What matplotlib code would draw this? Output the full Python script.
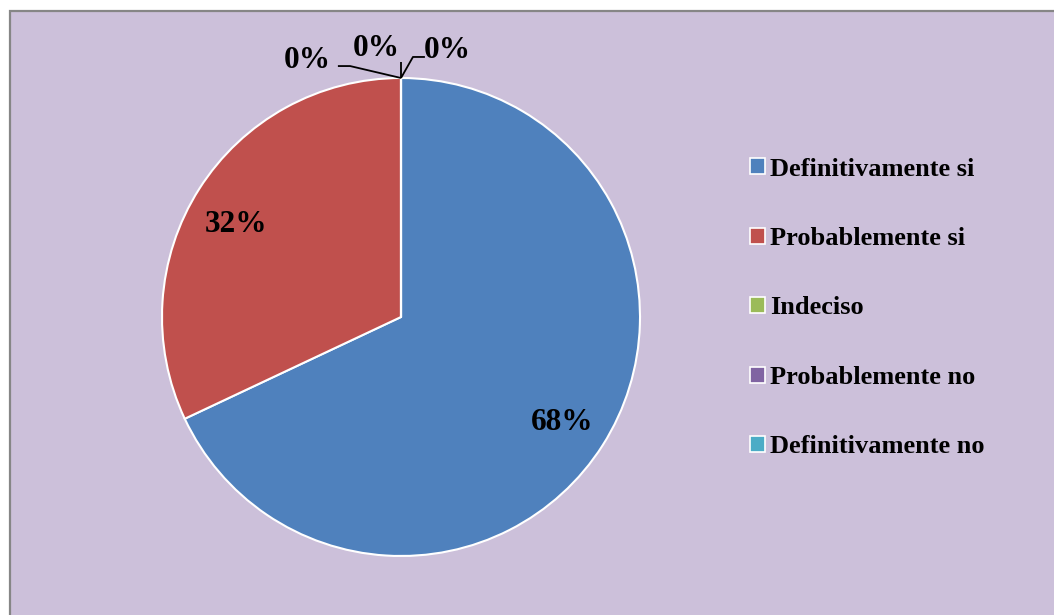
import numpy as np
import matplotlib
matplotlib.use("Agg")
import matplotlib.pyplot as plt
from matplotlib.patches import Rectangle, Patch

plt.rcParams['font.family'] = ['Liberation Serif', 'DejaVu Serif']
plt.rcParams['font.weight'] = 'bold'

categories = ["Definitivamente si", "Probablemente si", "Indeciso",
              "Probablemente no", "Definitivamente no"]
shares = [0.68, 0.32, 0.0, 0.0, 0.0]
colors = ["#4F81BD", "#C0504D", "#9BBB59", "#8064A2", "#4BACC6"]

W, H = 1054, 615
# pie centre at (401, 317) px with radius 239 px
cx, cy, R = 401, 317, 239
PX = 1 / R  # one pixel in data units

# nudges for the in-slice labels (pixels)
label_nudge = [(0, -3), (-4, -10)]
# where the small-slice labels sit, relative to their wedge point (pie radius = 1)
zero_label_pos = [(-0.393, 0.072), (-0.105, 0.122), (0.192, 0.114)]
zero_leaders = [[(0, 0), (-0.213, 0.050), (-0.264, 0.050)],
                [(0, 0), (0, 0.067)],
                [(0, 0), (0.050, 0.088), (0.100, 0.088)]]

fig = plt.figure(figsize=(W / 100, H / 100), dpi=100)
fig.patch.set_facecolor("white")
fig.add_artist(Rectangle((9.5 / W, -0.01), 1.1, 1 - 10.5 / H + 0.01,
                         transform=fig.transFigure, facecolor="#CCC0DA",
                         edgecolor="#868686", linewidth=1.6, zorder=-5))

ax = fig.add_axes([0, 0, 1, 1])
ax.patch.set_visible(False)
wedges, _ = ax.pie(shares, colors=colors, startangle=90, counterclock=False,
                   radius=1, wedgeprops=dict(edgecolor="white", linewidth=1.5))
ax.set_xlim(-cx / R, (W - cx) / R)
ax.set_ylim(-(H - cy) / R, cy / R)
ax.set_aspect("auto")
ax.axis("off")

total = sum(shares)
start = 0.0
zi = 0
for i, v in enumerate(shares):
    frac = v / total
    if frac > 0:
        mid = np.deg2rad(90 - 360 * (start + frac / 2))
        dx, dy = label_nudge[i]
        ax.text(0.8 * np.cos(mid) + dx * PX, 0.8 * np.sin(mid) + dy * PX,
                f"{frac:.0%}", ha="center", va="center",
                fontsize=22.5, fontweight="bold")
    else:
        ang = np.deg2rad(90 - 360 * start)
        px, py = np.cos(ang), np.sin(ang)
        tx, ty = zero_label_pos[zi]
        ax.text(px + tx, py + ty, f"{frac:.0%}", ha="center", va="center",
                fontsize=22.5, fontweight="bold")
        seg = zero_leaders[zi]
        ax.plot([px + s[0] for s in seg], [py + s[1] for s in seg],
                color="black", linewidth=1.3, solid_capstyle="butt")
        zi += 1
    start += frac

handles = [Patch(facecolor=c, edgecolor="white", linewidth=1.2) for c in colors]
fig.legend(handles, categories, loc="center left",
           bbox_to_anchor=(750 / W, 1 - 308 / H), frameon=False,
           prop=dict(family="Liberation Serif", weight="bold", size=19),
           handlelength=0.58, handleheight=0.55, handletextpad=0.17,
           labelspacing=1.76, borderpad=0, borderaxespad=0)

fig.savefig("out.png", dpi=100, facecolor=fig.get_facecolor())
